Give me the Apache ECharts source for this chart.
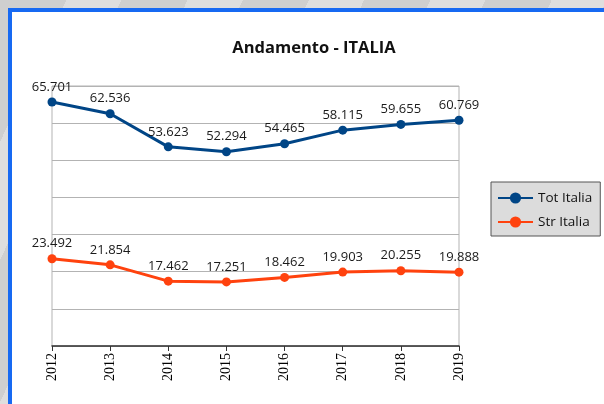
<!DOCTYPE html>
<html>
<head>
<meta charset="utf-8">
<script src="https://cdn.jsdelivr.net/npm/echarts@6/dist/echarts.min.js"></script>
<style>
  html, body { margin: 0; padding: 0; }
  body {
    width: 604px; height: 404px; overflow: hidden; position: relative;
    background: repeating-linear-gradient(115deg, #cfcfcf 0px, #cfcfcf 60px, #dedede 60px, #dedede 110px);
  }
  #frame {
    position: absolute; left: 8px; top: 8px; width: 600px; height: 400px;
    border-left: 4px solid #1769f2; border-top: 4px solid #1769f2;
    background: #fff;
  }
  #chart { position: absolute; left: 0; top: 0; width: 604px; height: 404px; }
</style>
</head>
<body>
<div id="frame"></div>
<div id="chart"></div>
<script>
const years = ['2012', '2013', '2014', '2015', '2016', '2017', '2018', '2019']
const totItalia = [65.701, 62.536, 53.623, 52.294, 54.465, 58.115, 59.655, 60.769]
const strItalia = [23.492, 21.854, 17.462, 17.251, 18.462, 19.903, 20.255, 19.888]

const chart = echarts.init(document.getElementById('chart'))

const labelStyle = {
  show: true,
  position: 'top',
  distance: 4,
  fontFamily: 'Open Sans',
  fontSize: 13,
  color: '#1a1a1a',
  formatter: p => p.value.toFixed(3)
}

chart.setOption({
  animation: false,
  title: {
    text: 'Andamento - ITALIA',
    left: 309,
    top: 35,
    textAlign: 'center',
    textStyle: {
      fontFamily: 'Open Sans',
      fontWeight: 'bold',
      fontSize: 16.5,
      color: '#111'
    }
  },
  legend: {
    orient: 'vertical',
    left: 491,
    top: 182,
    width: 107,
    padding: [9, 8, 7, 6],
    itemGap: 10,
    itemWidth: 35,
    itemHeight: 14,
    backgroundColor: '#dcdcdc',
    borderColor: '#555',
    borderWidth: 1,
    textStyle: {
      fontFamily: 'Open Sans',
      fontSize: 13.5,
      color: '#111'
    },
    data: ['Tot Italia', 'Str Italia']
  },
  grid: {
    left: 52,
    right: 145,
    top: 86,
    bottom: 58,
    show: true,
    borderColor: '#b3b3b3',
    borderWidth: 1
  },
  xAxis: {
    type: 'category',
    data: years,
    boundaryGap: false,
    axisLine: { lineStyle: { color: '#333', width: 1.5 } },
    axisTick: { show: true, length: 5, lineStyle: { color: '#333' } },
    axisLabel: {
      rotate: 90,
      interval: 0,
      margin: 7,
      fontFamily: 'Liberation Serif',
      fontSize: 14,
      color: '#000'
    }
  },
  yAxis: {
    type: 'value',
    min: 0,
    max: 70,
    interval: 10,
    axisLabel: { show: false },
    axisLine: { show: false },
    axisTick: { show: false },
    splitLine: { lineStyle: { color: '#b3b3b3' } }
  },
  series: [
    {
      name: 'Tot Italia',
      type: 'line',
      data: totItalia,
      symbol: 'circle',
      symbolSize: 9,
      itemStyle: { color: '#004586' },
      lineStyle: { color: '#004586', width: 3 },
      label: labelStyle
    },
    {
      name: 'Str Italia',
      type: 'line',
      data: strItalia,
      symbol: 'circle',
      symbolSize: 9,
      itemStyle: { color: '#ff420e' },
      lineStyle: { color: '#ff420e', width: 3 },
      label: labelStyle
    }
  ]
})
</script>
</body>
</html>
